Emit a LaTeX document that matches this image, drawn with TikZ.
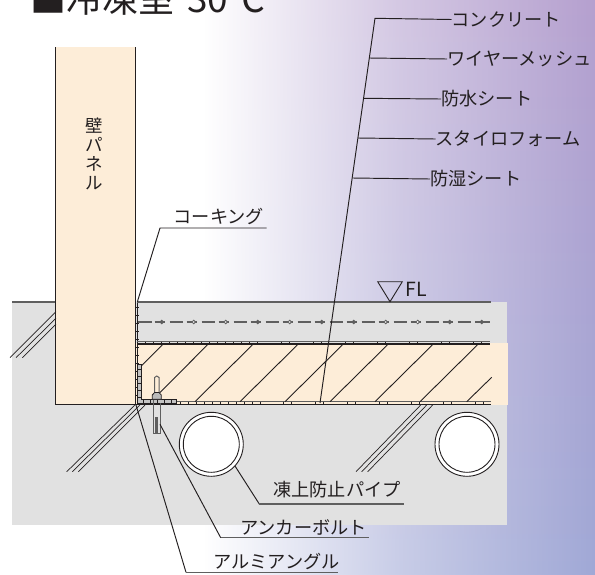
\documentclass[tikz,border=0pt]{standalone}
\usepackage{fontspec}
\setmainfont{Noto Sans CJK JP}
\usetikzlibrary{fadings}
\definecolor{panel}{HTML}{FDEDD8}
\definecolor{conc}{HTML}{E1E1E1}
\definecolor{ink}{HTML}{231F20}
\definecolor{linegray}{HTML}{5F5F5F}
\definecolor{bgtop}{HTML}{B5A0CF}
\definecolor{bgmid}{HTML}{9E92C6}
\definecolor{bgbot}{HTML}{A0A8D6}
\tikzfading[name=fadeR,left color=transparent!100,right color=transparent!0,middle color=transparent!42]
\tikzset{x=1pt,y=-1pt,
 lbl/.style={font=\fontsize{18.2}{20}\selectfont,text=ink,inner sep=0pt,anchor=west},
 lead/.style={draw=ink,line width=.95pt},
 hatch/.style={draw=ink,line width=.9pt},
 tickmark/.style={draw=ink,line width=.7pt},
 edge/.style={draw=ink,line width=1pt},
 grayline/.style={draw=linegray,line width=1.3pt},
 meshline/.style={draw=linegray,line width=1.1pt},
 brk/.style={draw=ink,line width=.7pt},
 pipe/.style={draw=ink,line width=.9pt,fill=white}}
\begin{document}
\begin{tikzpicture}
\useasboundingbox (0,0) rectangle (595,574);
\clip (0,0) rectangle (595,574);
% background
\fill[white] (0,0) rectangle (595,574);
\shade[top color=bgtop,middle color=bgmid,bottom color=bgbot,path fading=fadeR] (205,0) rectangle (595,574);
% title
\node[font=\fontsize{36}{38}\selectfont,text=ink,inner sep=0pt,anchor=base west] (title) at (30,12.5) {■冷凍室};
\node[font=\fontsize{37}{38}\selectfont,text=ink,inner sep=0pt,anchor=base west] (temp) at (187,12.5) {30℃};
% fills
\fill[conc] (12.3,302) rectangle (506.7,525);
\fill[panel] (136,343) rectangle (508,405);
\fill[panel] (55.3,47) rectangle (135.3,404.3);
% break marks
\foreach \a/\b in {56/10,62.5/16,68.5/22.3}{
  \draw[brk] ({56},{\a+255.7}) -- (\b,357.7);}
\foreach \a/\b in {135/66.7,140/72.3,145/78.3,420.7/356,426.7/361.7,432.7/367.7}{
  \draw[brk] (\a,405) -- (\b,471.7);}
% wall
\draw[edge] (55.3,47) -- (55.3,404.3) -- (491,404.3);
\draw[edge] (135.3,47) -- (135.3,404.3);
\draw[draw=ink,line width=.6pt] (137.3,302) -- (137.3,404);
% slab lines
\draw[grayline] (12.3,302) -- (55,302);
\draw[grayline] (137,302) -- (491,302);
\draw[draw=linegray,line width=.8pt] (137,341.7) -- (490,341.7);
\draw[draw=ink,line width=1.1pt] (137,344) -- (490,344);
\draw[draw=linegray,line width=.8pt] (177,401.7) -- (491,401.7);
% wall-side ticks
\foreach \k in {0,...,11}{\draw[tickmark] (135.5,{307+8*\k}) -- (139,{307+8*\k});}
% top row ticks
\foreach \k in {0,...,14}{\draw[tickmark] ({145.7+8*\k},341.7) -- ({145.7+8*\k},344);}
\foreach \c in {289.7,321.7,353.7,385.7,417.7,449.7,481.7}{
  \draw[tickmark] ({\c-8},341.7) -- ({\c-8},344);
  \draw[tickmark] (\c,341.7) -- (\c,344);}
% bottom row ticks
\foreach \k in {0,...,10}{\draw[tickmark] ({180+8*\k},401.5) -- ({180+8*\k},404);}
\foreach \c in {283,315,347,379,411,443,475}{
  \draw[tickmark] (\c,401.5) -- (\c,404);
  \draw[tickmark] ({\c+8},401.5) -- ({\c+8},404);}
% hatch
\draw[hatch] (162.3,345) -- (138.6,368.7);
\draw[hatch] (207.3,345) -- (160,392.5);
\foreach \k in {2,...,7}{
  \draw[hatch] ({162.3+45*\k},345) -- ({105+45*\k},401.7);}
\draw[hatch] (491.7,377.3) -- (466.7,401.7);
% mesh
\draw[meshline] (138,322) -- (152,322);
\foreach \c in {161.7,193.7,225.7,257.7,289.7,321.7,353.7,385.7,417.7,449.7}{
  \draw[meshline] ({\c-7},322) -- ({\c+3.5},322);
  \draw[meshline] ({\c+8},322) -- ({\c+21},322);}
\draw[meshline] (475,322) -- (490,322);
\foreach \c/\f in {161.7/linegray,193.7/conc,225.7/conc,257.7/linegray,289.7/conc,321.7/linegray,353.7/linegray,385.7/conc,417.7/white,449.7/linegray,481.7/linegray}{
  \fill[draw=linegray,fill=\f,line width=.8pt] (\c,322) circle (1.8);}
% angle
\fill[fill=conc!70!gray,draw=ink,line width=.7pt] (137.3,364) -- (141,364) -- (141,399.3) -- (176.7,399.3) -- (176.7,403.3) -- (137.3,403.3) -- cycle;
\foreach \k in {0,...,4}{\draw[tickmark] (137.3,{369+7*\k}) -- (141,{369+7*\k});}
\foreach \k in {0,...,4}{\draw[tickmark] ({143+7*\k},399.3) -- ({143+7*\k},403.3);}
% anchor bolt
\fill[panel,draw=linegray,line width=1pt] (154.6,393) -- (154.6,377.5) .. controls (155,375.5) and (158.6,375.5) .. (159,377.5) -- (159,393);
\fill[conc!60!gray,draw=ink,line width=.8pt] (152.3,399.3) -- (152.3,395) -- (154.6,392.5) -- (159,392.5) -- (161.3,395) -- (161.3,399.3) -- cycle;
\draw[draw=linegray,line width=1pt] (153.3,400) -- (153.3,433.3) -- (160.6,433.3) -- (160.6,403);
\fill[linegray] (155,417) rectangle (157.6,433);
% pipes
\foreach \n/\x in {pa/211.3,pb/467}{
  \node[pipe,circle,minimum size=64pt,inner sep=0pt] (\n) at (\x,444.3) {};
  \draw[draw=ink,line width=.9pt] (\x,444.3) circle (28);}
% FL
\draw[draw=ink,line width=.9pt] (377.7,281.7) -- (402.3,281.7) -- (390,301.7) -- cycle;
\node[lbl,font=\fontsize{19.5}{21}\selectfont] (fl) at (405.5,289) {FL};
% vertical label
\node[font=\fontsize{17.5}{19.2}\selectfont,text=ink,inner sep=0pt,align=center] (wall) at (94,154) {壁\\パ\\ネ\\ル};
% upper labels
\node[lbl] (tcaulk) at (173.5,216) {コーキング};
\coordinate (caulkA) at (137.3,302);
\coordinate (caulkB) at (160,228);
\coordinate (caulkC) at (266.7,228);
\draw[lead] (caulkA) -- (caulkB) -- (caulkC);
\node[lbl] (t1) at (451.5,19.5) {コンクリート};
\node[lbl] (t2) at (447,59) {ワイヤーメッシュ};
\node[lbl] (t3) at (441,99) {防水シート};
\node[lbl] (t4) at (435.5,139) {スタイロフォーム};
\node[lbl] (t5) at (430,179) {防湿シート};
\coordinate (top) at (375,18.3);
\coordinate (foot) at (320,403);
\coordinate (j2) at (369.4,58);
\coordinate (j3) at (363.9,98.3);
\coordinate (j4) at (358.2,138);
\coordinate (j5) at (352.6,178);
\draw[lead] (foot) -- (top) -- (t1.west);
\draw[lead] (j2) -- (t2.west);
\draw[lead] (j3) -- (t3.west);
\draw[lead] (j4) -- (t4.west);
\draw[lead] (j5) -- (t5.west);
% lower labels
\node[lbl] (t6) at (273,490) {凍上防止パイプ};
\node[lbl] (t7) at (240,527) {アンカーボルト};
\node[lbl] (t8) at (213,561.5) {アルミアングル};
\coordinate (a6) at (259.3,504);
\coordinate (a7) at (220.7,537.7);
\coordinate (a8) at (186,572.3);
\coordinate (bolt) at (160,424.3);
\coordinate (corner) at (135.7,404);
\draw[lead] (235,466) -- (a6);
\draw[draw=linegray,line width=1.1pt] (a6) -- (404,504);
\draw[lead] (bolt) -- (a7);
\draw[draw=linegray,line width=1.1pt] (a7) -- (368.7,537.7);
\draw[lead] (corner) -- (a8);
\draw[draw=linegray,line width=1.3pt] (a8) -- (338.3,572.3);
\end{tikzpicture}
\end{document}
